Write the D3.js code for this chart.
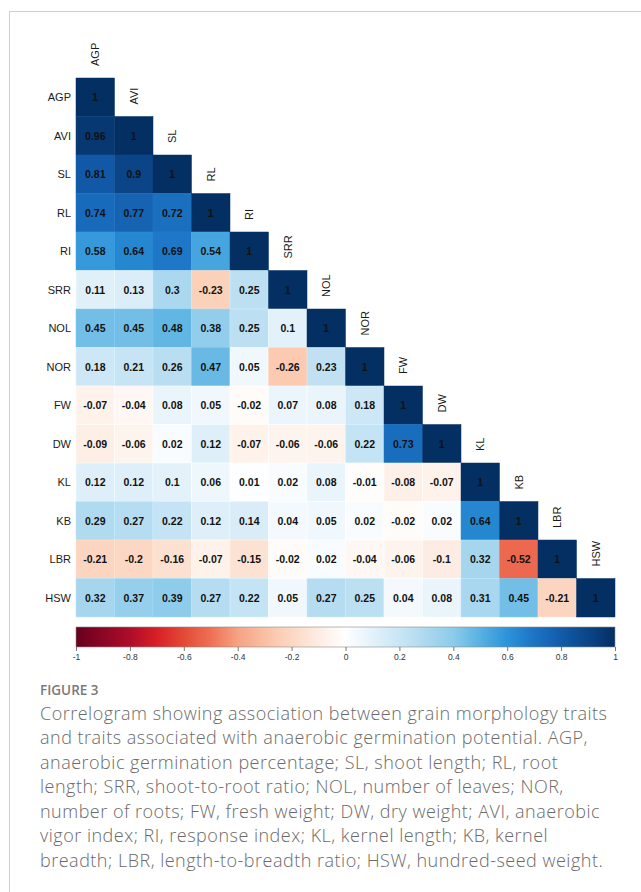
<!DOCTYPE html>
<html>
<head>
<meta charset="utf-8">
<script src="https://cdn.jsdelivr.net/npm/d3@7"></script>
<style>
  html, body { margin: 0; padding: 0; background: #fff; }
  svg { display: block; }
</style>
</head>
<body>
<svg id="chart" width="641" height="892"></svg>
<script>
// ---------- data ----------
const traits = ["AGP","AVI","SL","RL","RI","SRR","NOL","NOR","FW","DW","KL","KB","LBR","HSW"];
const rowAGP = [1];
const rowAVI = [0.96, 1];
const rowSL  = [0.81, 0.9, 1];
const rowRL  = [0.74, 0.77, 0.72, 1];
const rowRI  = [0.58, 0.64, 0.69, 0.54, 1];
const rowSRR = [0.11, 0.13, 0.3, -0.23, 0.25, 1];
const rowNOL = [0.45, 0.45, 0.48, 0.38, 0.25, 0.1, 1];
const rowNOR = [0.18, 0.21, 0.26, 0.47, 0.05, -0.26, 0.23, 1];
const rowFW  = [-0.07, -0.04, 0.08, 0.05, -0.02, 0.07, 0.08, 0.18, 1];
const rowDW  = [-0.09, -0.06, 0.02, 0.12, -0.07, -0.06, -0.06, 0.22, 0.73, 1];
const rowKL  = [0.12, 0.12, 0.1, 0.06, 0.01, 0.02, 0.08, -0.01, -0.08, -0.07, 1];
const rowKB  = [0.29, 0.27, 0.22, 0.12, 0.14, 0.04, 0.05, 0.02, -0.02, 0.02, 0.64, 1];
const rowLBR = [-0.21, -0.2, -0.16, -0.07, -0.15, -0.02, 0.02, -0.04, -0.06, -0.1, 0.32, -0.52, 1];
const rowHSW = [0.32, 0.37, 0.39, 0.27, 0.22, 0.05, 0.27, 0.25, 0.04, 0.08, 0.31, 0.45, -0.21, 1];
const rows = [rowAGP,rowAVI,rowSL,rowRL,rowRI,rowSRR,rowNOL,rowNOR,rowFW,rowDW,rowKL,rowKB,rowLBR,rowHSW];
const legendTicks = [-1,-0.8,-0.6,-0.4,-0.2,0,0.2,0.4,0.6,0.8,1];

const captionTitle = "FIGURE 3";
const captionLines = [
  "Correlogram showing association between grain morphology traits",
  "and traits associated with anaerobic germination potential. AGP,",
  "anaerobic germination percentage; SL, shoot length; RL, root",
  "length; SRR, shoot-to-root ratio; NOL, number of leaves; NOR,",
  "number of roots; FW, fresh weight; DW, dry weight; AVI, anaerobic",
  "vigor index; RI, response index; KL, kernel length; KB, kernel",
  "breadth; LBR, length-to-breadth ratio; HSW, hundred-seed weight."
];

// ---------- colour palette ----------
const palDomain = [-1, -0.8, -0.7, -0.6, -0.5, -0.4, -0.25, -0.1, 0, 0.1, 0.25, 0.4, 0.5, 0.6, 0.7, 0.8, 0.9, 1];
const palRange  = ["#67001f","#ad0d29","#d91f26","#e34a36","#ee7055","#f6a283","#fbcdb4","#fdece3","#ffffff",
                   "#e3f1fa","#bcdff2","#8ccbea","#58b1e2","#2c93d9","#1c74c5","#125ba9","#0b4587","#042f63"];
const color = d3.scaleLinear().domain(palDomain).range(palRange).interpolate(d3.interpolateRgb).clamp(true);

// ---------- layout ----------
const svg = d3.select("#chart");
const font = "'Liberation Sans', Arial, sans-serif";

// frame
svg.append("line").attr("x1", 9).attr("x2", 641).attr("y1", 11.5).attr("y2", 11.5)
  .attr("stroke", "#cfcfcf").attr("stroke-width", 1);
svg.append("line").attr("x1", 9.5).attr("x2", 9.5).attr("y1", 11).attr("y2", 892)
  .attr("stroke", "#cfcfcf").attr("stroke-width", 1);

const gridLeft = 76, gridTop = 78, gridSize = 539;
const x = d3.scaleBand().domain(traits).range([gridLeft, gridLeft + gridSize]);
const y = d3.scaleBand().domain(traits).range([gridTop, gridTop + gridSize]);

const cells = [];
rows.forEach((vals, i) => vals.forEach((v, j) => cells.push({row: traits[i], col: traits[j], v})));

const g = svg.append("g");
g.selectAll("rect.cell").data(cells).join("rect")
  .attr("class", "cell")
  .attr("x", d => x(d.col)).attr("y", d => y(d.row))
  .attr("width", x.bandwidth()).attr("height", y.bandwidth())
  .attr("fill", d => color(d.v))
  .attr("stroke", d => d3.color(color(d.v)).brighter(0.2))
  .attr("stroke-width", 0.5);

g.selectAll("text.val").data(cells).join("text")
  .attr("class", "val")
  .attr("x", d => x(d.col) + x.bandwidth() / 2)
  .attr("y", d => y(d.row) + y.bandwidth() / 2)
  .attr("dy", "0.36em")
  .attr("text-anchor", "middle")
  .attr("font-family", font).attr("font-weight", "bold").attr("font-size", 10.5)
  .attr("fill", "#111")
  .text(d => String(d.v));

// row labels
g.selectAll("text.rowlab").data(traits).join("text")
  .attr("class", "rowlab")
  .attr("x", gridLeft - 5)
  .attr("y", d => y(d) + y.bandwidth() / 2)
  .attr("dy", "0.36em")
  .attr("text-anchor", "end")
  .attr("font-family", font).attr("font-size", 11)
  .attr("fill", "#1a1a1a")
  .text(d => d);

// column labels (rotated)
g.selectAll("text.collab").data(traits).join("text")
  .attr("class", "collab")
  .attr("transform", d => `translate(${x(d) + x.bandwidth() / 2},${y(d) - 12}) rotate(-90)`)
  .attr("dy", "0.36em")
  .attr("text-anchor", "start")
  .attr("font-family", font).attr("font-size", 11)
  .attr("fill", "#1a1a1a")
  .text(d => d);

// ---------- colour legend ----------
const legTop = 627, legH = 20;
const lx = d3.scaleLinear().domain([-1, 1]).range([gridLeft, gridLeft + gridSize]);
const defs = svg.append("defs");
const grad = defs.append("linearGradient").attr("id", "grad").attr("x1", "0%").attr("x2", "100%");
d3.range(0, 101).forEach(k => {
  const v = -1 + k * 0.02;
  grad.append("stop").attr("offset", k + "%").attr("stop-color", color(v));
});
svg.append("rect").attr("x", lx(-1)).attr("y", legTop).attr("width", lx(1) - lx(-1)).attr("height", legH)
  .attr("fill", "url(#grad)").attr("stroke", "#8a8a8a").attr("stroke-width", 0.6);

const axis = d3.axisBottom(lx).tickValues(legendTicks).tickSize(4).tickPadding(3)
  .tickFormat(d => String(+d.toFixed(1)));
const ax = svg.append("g").attr("transform", `translate(0,${legTop + legH})`).call(axis);
ax.select(".domain").remove();
ax.selectAll(".tick line").attr("stroke", "#555").attr("stroke-width", 0.8);
ax.selectAll(".tick text").attr("font-family", font).attr("font-size", 8.5).attr("fill", "#333");

// ---------- caption ----------
svg.append("text").attr("x", 40).attr("y", 695)
  .attr("font-family", "'Open Sans', 'Noto Sans', sans-serif").attr("font-weight", 600)
  .attr("font-size", 13.5).attr("fill", "#7a7a7a").text(captionTitle);

const cap = svg.append("g");
const capTexts = cap.selectAll("text").data(captionLines).join("text")
  .attr("x", 40)
  .attr("y", (d, i) => 719.5 + i * 24.5)
  .attr("font-family", "'Open Sans', 'Noto Sans', sans-serif").attr("font-weight", 300)
  .attr("font-size", 18).attr("fill", "#6a6a6a")
  .text(d => d);
// widen letter spacing so the first line spans the same width as the reference
const firstLen = capTexts.node().getComputedTextLength();
const targetLen = 567;
const ls = (targetLen - firstLen) / (captionLines[0].length - 1);
capTexts.attr("letter-spacing", Math.max(0, ls).toFixed(3) + "px");
</script>
</body>
</html>
